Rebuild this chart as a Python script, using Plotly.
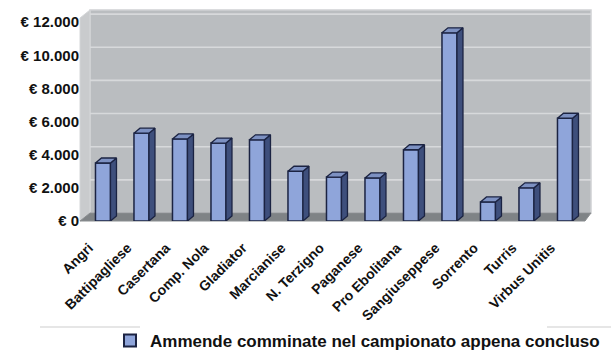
import plotly.graph_objects as go

teams = ["Angri", "Battipagliese", "Casertana", "Comp. Nola", "Gladiator", "Marcianise",
         "N. Terzigno", "Paganese", "Pro Ebolitana", "Sangiuseppese", "Sorrento", "Turris",
         "Virbus Unitis"]
fines = [3500, 5300, 4950, 4700, 4900, 3000, 2650, 2600, 4300, 11350, 1150, 2000, 6200]
y_ticks = [0, 2000, 4000, 6000, 8000, 10000, 12000]
y_tick_text = ["€ 0", "€ 2.000", "€ 4.000", "€ 6.000", "€ 8.000", "€ 10.000", "€ 12.000"]
series_name = "Ammende comminate nel campionato appena concluso"

W, H = 611, 351
ML, MR, MT, MB = 80, 20, 10, 130
PW, PH = W - ML - MR, H - MT - MB
X0 = -0.597
X1 = X0 + PW / 38.5
YMAX = 12730
px_per_x = PW / (X1 - X0)
px_per_y = PH / YMAX

bw = 15 / px_per_x          # bar front width
bdx = 6 / px_per_x          # bar depth x
bdy = 5 / px_per_y          # bar depth y
wall_dy = 8 / px_per_y      # wall depth (data units)
wdx = 10 / PW               # wall depth (paper)
wdy = 8 / PH

FRONT = "#8fa5da"
SIDE = "#3e4f7c"
TOP = "#7d91c2"
EDGE = "#1b2342"

idx = list(range(len(teams)))

fig = go.Figure()
fig.add_trace(go.Bar(x=idx, y=fines, width=bw, name=series_name,
                     marker=dict(color=FRONT, line=dict(color=EDGE, width=1.5)),
                     showlegend=True, hoverinfo="skip"))

side_x, side_y, top_x, top_y = [], [], [], []
for i, v in zip(idx, fines):
    r = i + bw / 2
    l = i - bw / 2
    side_x += [r, r + bdx, r + bdx, r, r, None]
    side_y += [0, bdy, v + bdy, v, 0, None]
    top_x += [l, r, r + bdx, l + bdx, l, None]
    top_y += [v, v, v + bdy, v + bdy, v, None]

fig.add_trace(go.Scatter(x=side_x, y=side_y, mode="lines", fill="toself", fillcolor=SIDE,
                         line=dict(color=EDGE, width=1.3), showlegend=False, hoverinfo="skip"))
fig.add_trace(go.Scatter(x=top_x, y=top_y, mode="lines", fill="toself", fillcolor=TOP,
                         line=dict(color=EDGE, width=1.3), showlegend=False, hoverinfo="skip"))

def py(p):
    return (MT + PH - p) / PH

shapes = []
shapes.append(dict(type="rect", xref="paper", yref="paper", x0=wdx, x1=1, y0=wdy, y1=1,
                   fillcolor="#babdc0", line=dict(color="#cfd1d3", width=1.5), layer="below"))
shapes.append(dict(type="path", xref="paper", yref="paper",
                   path=f"M0,0 L{wdx},{wdy} L{wdx},1 L0,{1 - wdy} Z",
                   fillcolor="#c9cbcd", line=dict(color="#d4d6d8", width=1), layer="below"))
shapes.append(dict(type="path", xref="paper", yref="paper",
                   path=f"M0,0 L{(585 - ML) / PW},0 L1,{wdy} L{wdx},{wdy} Z",
                   fillcolor="#7f8386", line=dict(color="#8a8d90", width=1), layer="below"))
for v in y_ticks[1:]:
    shapes.append(dict(type="line", xref="paper", yref="y", x0=wdx, x1=1,
                       y0=v + wall_dy, y1=v + wall_dy,
                       line=dict(color="#d7d9db", width=1.6), layer="below"))
shapes.append(dict(type="line", xref="paper", yref="paper",
                   x0=(40 - ML) / PW, x1=(140 - ML) / PW, y0=py(327), y1=py(327),
                   line=dict(color="#e6e6e6", width=2), layer="below"))
shapes.append(dict(type="line", xref="paper", yref="paper",
                   x0=(547 - ML) / PW, x1=(611 - ML) / PW, y0=py(327), y1=py(327),
                   line=dict(color="#e6e6e6", width=2), layer="below"))

fig.update_layout(
    width=W, height=H,
    margin=dict(l=ML, r=MR, t=MT, b=MB, pad=0, autoexpand=False),
    paper_bgcolor="white", plot_bgcolor="rgba(0,0,0,0)",
    shapes=shapes,
    showlegend=True,
    legend=dict(orientation="h", x=(110 - ML) / PW, xanchor="left",
                y=py(341), yanchor="middle",
                font=dict(family="Liberation Sans, Arial, sans-serif", size=17, color="#111111",
                          weight="bold"),
                bgcolor="rgba(0,0,0,0)", itemsizing="constant"),
    xaxis=dict(range=[X0, X1], tickvals=idx, ticktext=teams, tickangle=-45,
               showgrid=False, zeroline=False, showline=False, ticks="", automargin=False,
               ticklabelshift=-14, ticklabelstandoff=15,
               tickfont=dict(family="Liberation Sans, Arial, sans-serif", size=14, color="#111111",
                             weight="bold")),
    yaxis=dict(range=[0, YMAX], tickvals=y_ticks, ticktext=y_tick_text, automargin=False,
               showgrid=False, zeroline=False, showline=False, ticks="",
               tickfont=dict(family="Liberation Sans, Arial, sans-serif", size=15, color="#111111",
                             weight="bold")),
    font=dict(family="Liberation Sans, Arial, sans-serif"),
)

fig.write_html("out.html")
